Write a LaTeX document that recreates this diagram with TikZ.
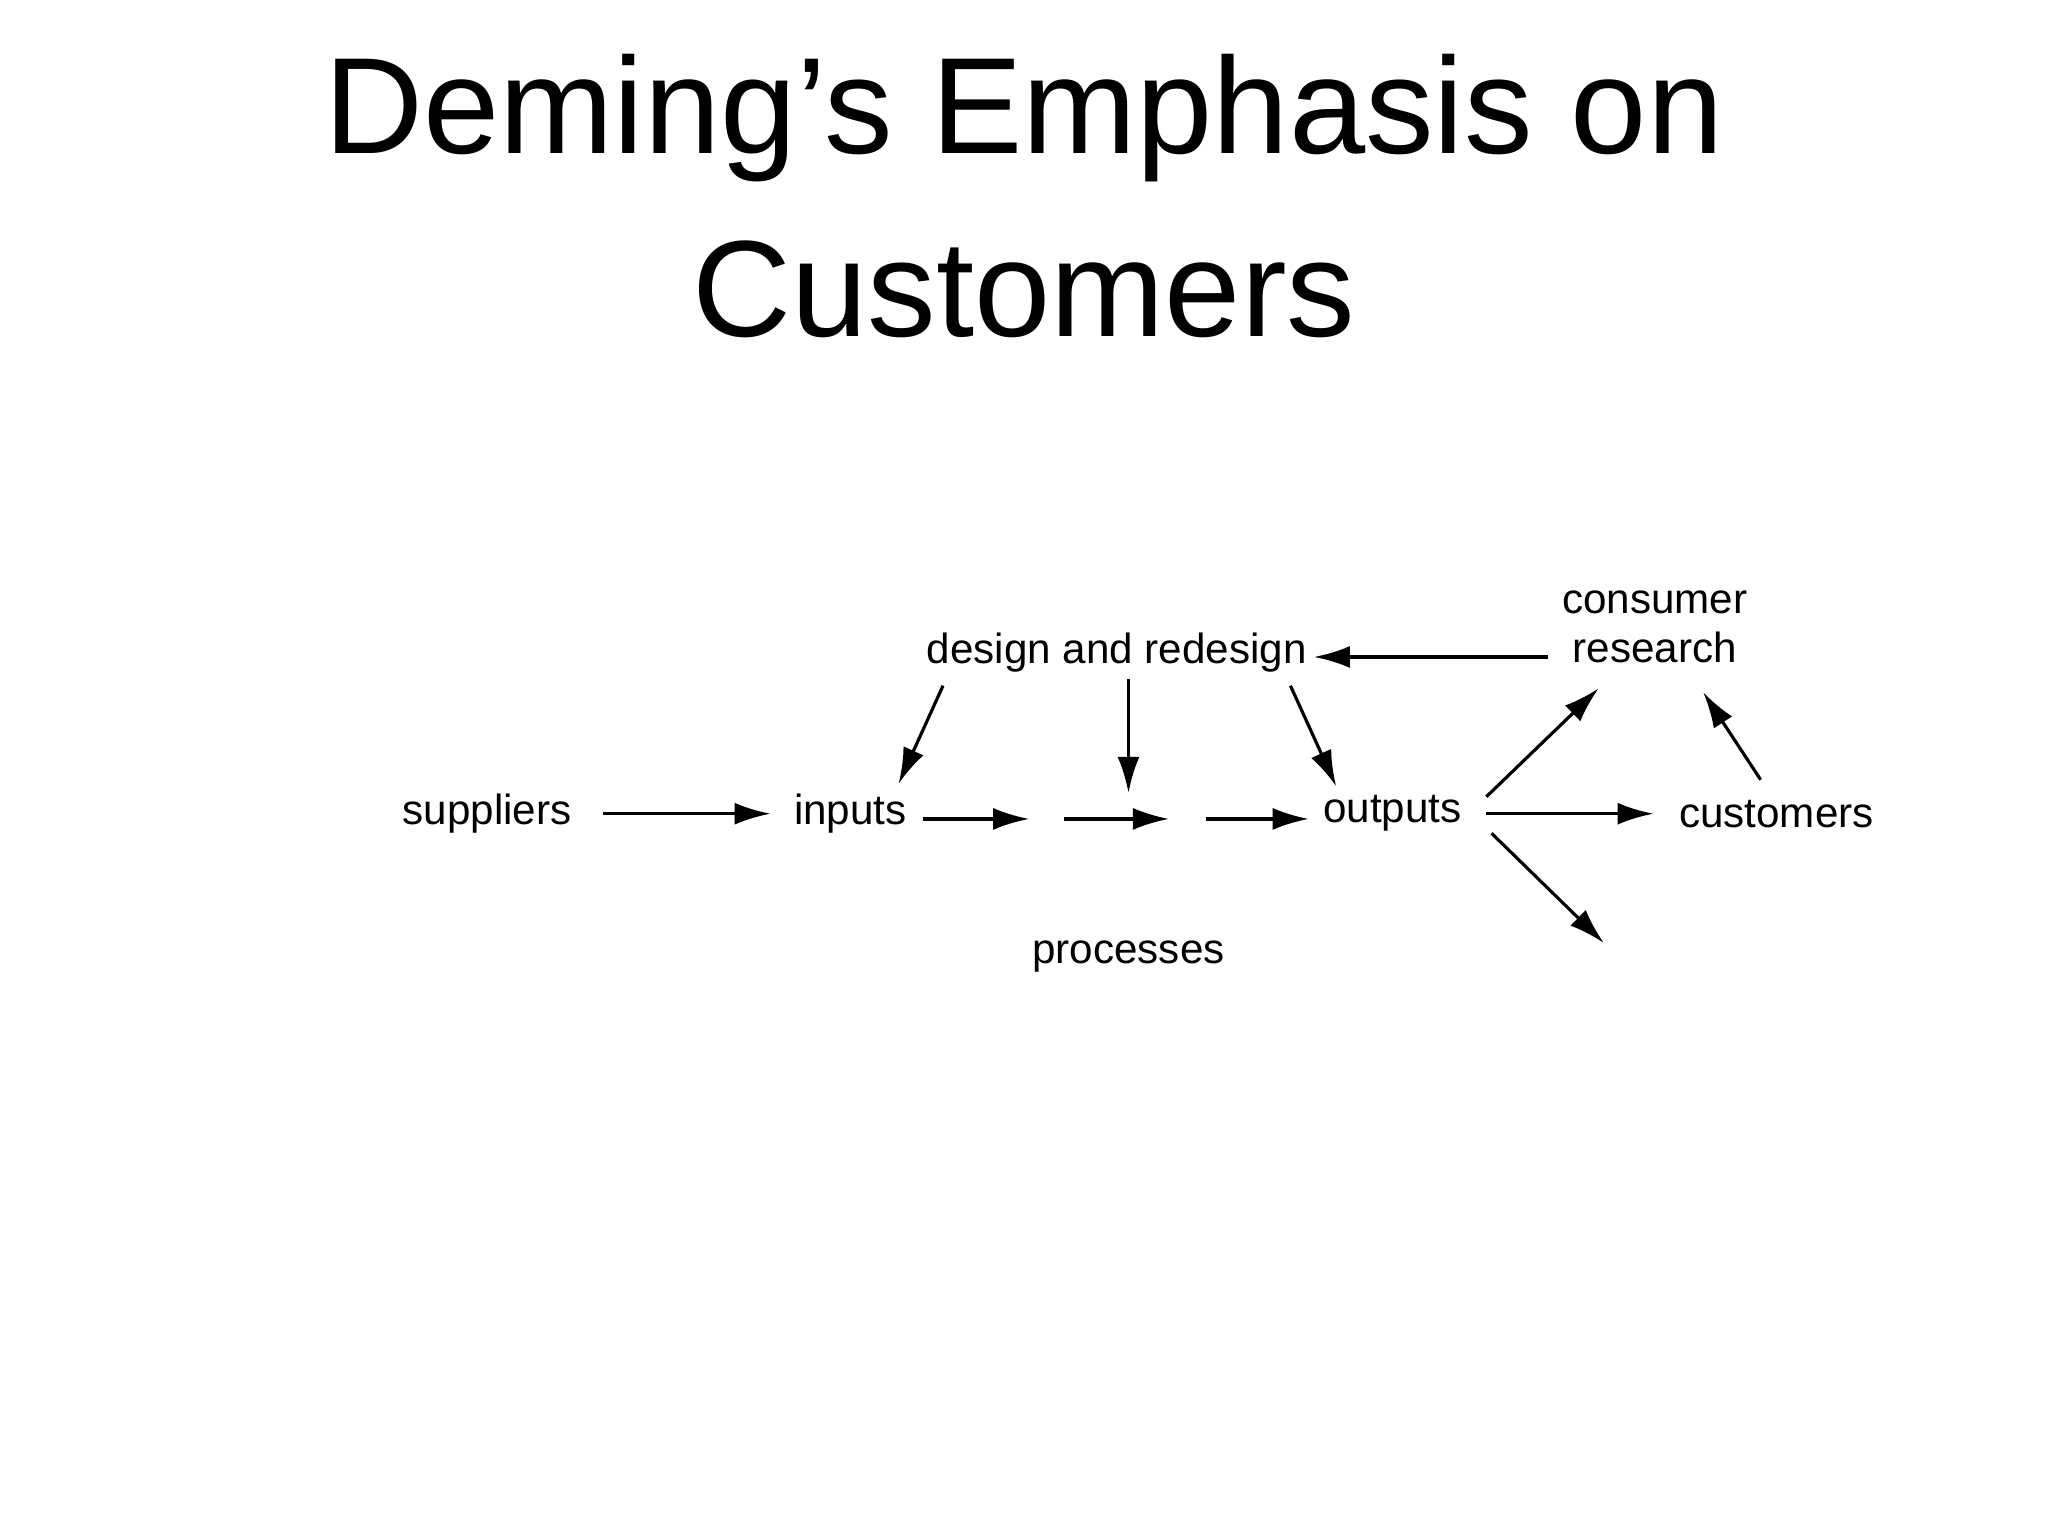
\documentclass[tikz,border=0pt]{standalone}
\usepackage{fontspec}
\setmainfont{Liberation Sans}
\usetikzlibrary{arrows.meta}
\begin{document}
\begin{tikzpicture}[x=0.013061cm,y=-0.013061cm,
  lbl/.style={font=\fontsize{12}{14}\selectfont,inner sep=0pt,align=center},
  arr/.style={line width=0.9pt,-{Latex[length=3.6mm,width=2.2mm]}}]
\useasboundingbox (0,0) rectangle (1568,1176);
\node (t) at (784,150) [font=\fontsize{39}{52}\selectfont,align=center] {Deming’s Emphasis on\\Customers};
\node[lbl] (sup) at (373,623) {suppliers};
\node[lbl] (inp) at (651,623) {inputs};
\node[lbl] (out) at (1066,623) {outputs};
\node[lbl] (cus) at (1360,623) {customers};
\node[lbl] (des) at (855,500) {design and redesign};
\node[lbl] (con) at (1267,480) {consumer\\research};
\node[lbl] (pro) at (864,732) {processes};
\coordinate (s1) at (462,623); \coordinate (e1) at (590,623);
\coordinate (s2) at (707,627); \coordinate (e2) at (788,627);
\coordinate (s3) at (815,627); \coordinate (e3) at (895,627);
\coordinate (s4) at (923,627); \coordinate (e4) at (1002,627);
\coordinate (s5) at (722,525); \coordinate (e5) at (688,600);
\coordinate (s6) at (864,520); \coordinate (e6) at (864,607);
\coordinate (s7) at (988,525); \coordinate (e7) at (1023,602);
\coordinate (s8) at (1185,503); \coordinate (e8) at (1006,503);
\coordinate (s9) at (1138,623); \coordinate (e9) at (1266,623);
\coordinate (s10) at (1138,610); \coordinate (e10) at (1224,527);
\coordinate (s11) at (1142,638); \coordinate (e11) at (1228,722);
\coordinate (s12) at (1348,597); \coordinate (e12) at (1304,530);
\foreach \i in {1,...,12} \draw[arr] (s\i) -- (e\i);
\end{tikzpicture}
\end{document}
